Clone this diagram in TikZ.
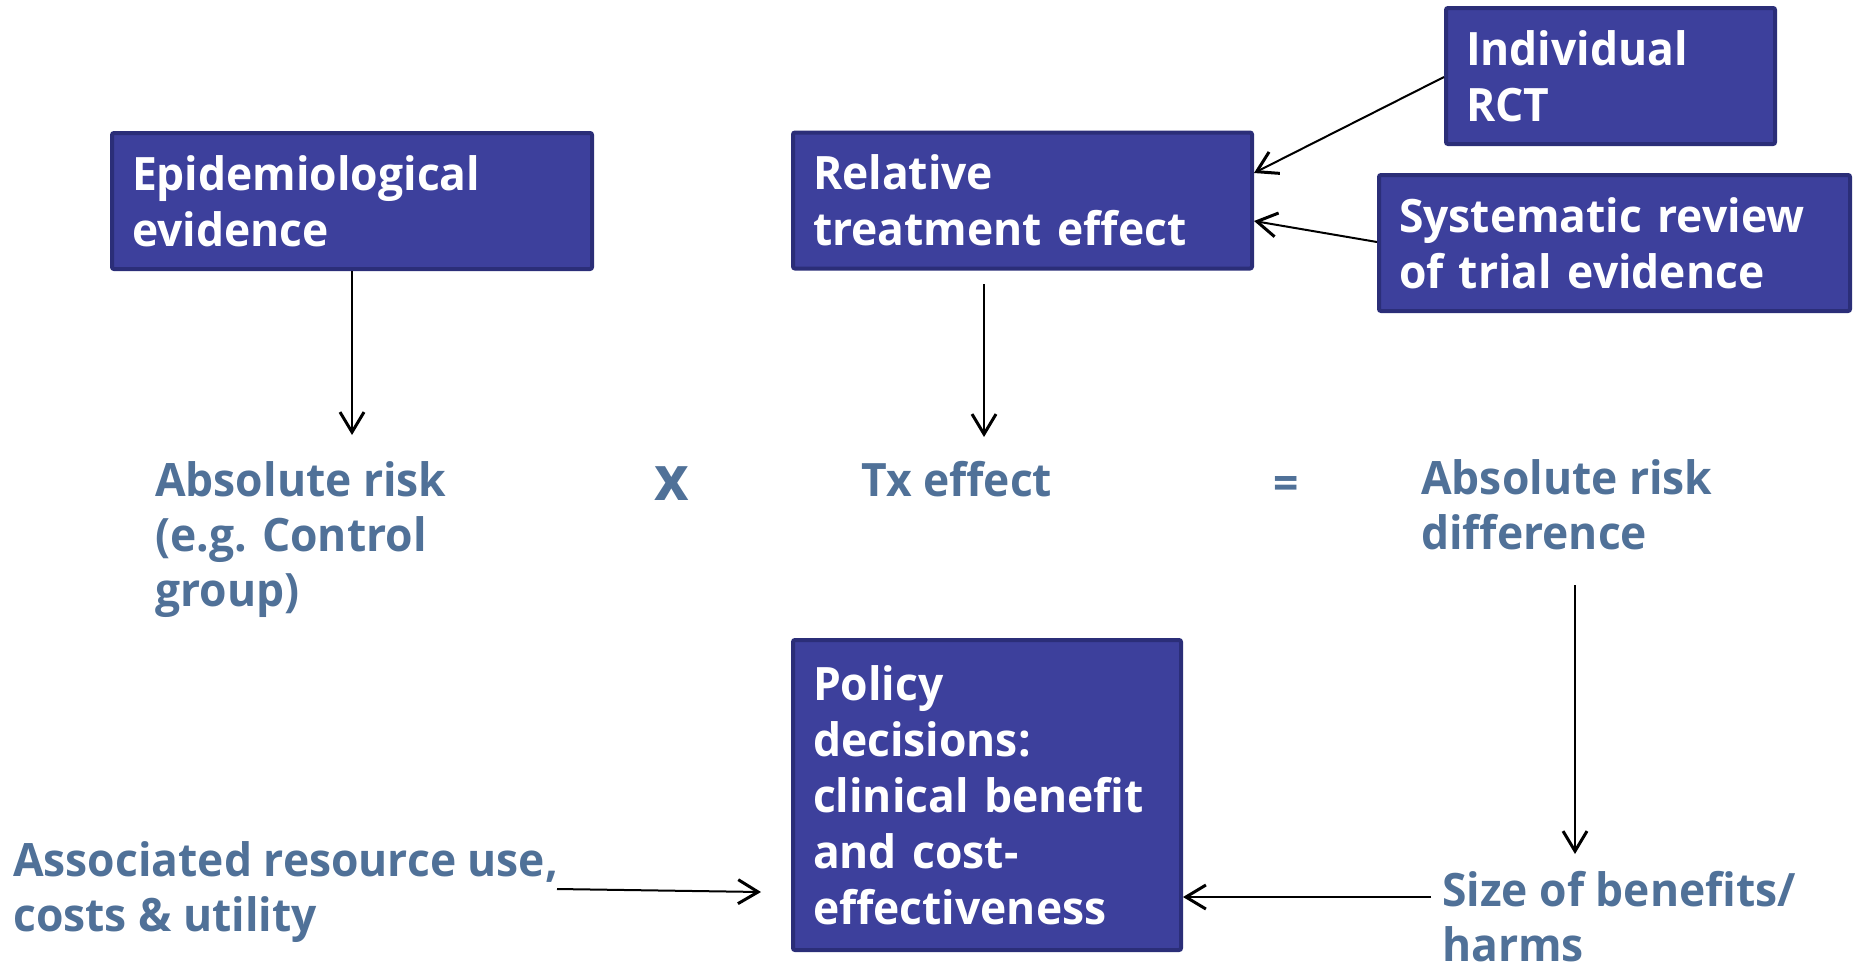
\documentclass[tikz,border=0pt]{standalone}
\usepackage{fontspec}
\setmainfont{Open Sans}[FakeStretch=0.965]
\usetikzlibrary{arrows.meta}

\definecolor{boxfill}{RGB}{61,64,156}
\definecolor{boxline}{RGB}{43,46,120}
\definecolor{slate}{RGB}{80,113,152}

\tikzset{
  evbox/.style={draw=boxline, fill=boxfill, line width=4pt, rounded corners=2pt,
    text=white, font=\bfseries\fontsize{46}{56}\selectfont, align=left,
    inner xsep=20pt, inner ysep=0pt, minimum height=136pt, text width=#1},
  evtext/.style={text=slate, font=\bfseries\fontsize{46}{55}\selectfont,
    align=left, inner sep=0pt, anchor=base west},
}

\begin{document}
\begin{tikzpicture}[x=1pt,y=-1pt,>={Straight Barb[length=20pt,width=24pt,line width=3pt]}]
  \useasboundingbox (0,0) rectangle (1858,972);
  % sources
  \node[evbox=440pt] (epid) at (352,201) {Epidemiological\\evidence};
  \node[evbox=419pt] (relative) at (1022.5,200.5) {Relative\\treatment effect};
  \node[evbox=289pt] (rct) at (1610.5,76) {Individual\\RCT};
  \node[evbox=431pt] (sysrev) at (1614.5,243) {Systematic review\\of trial evidence};
  \node[evbox=348pt, minimum height=310pt] (policy) at (987,795)
    {Policy\\decisions:\\clinical benefit\\and cost-\\effectiveness};
  % the sum (base = last line)
  \node[evtext] (absrisk) at (155,606) {Absolute risk\\(e.g. Control\\group)};
  \node[evtext, anchor=center, font=\bfseries\fontsize{62}{62}\selectfont] (times) at (672,484) {x};
  \node[evtext] (txeffect) at (861,496) {Tx effect};
  \node[evtext, anchor=center] (equals) at (1286,488) {=};
  \node[evtext] (ard) at (1421,549) {Absolute risk\\difference};
  \node[evtext] (size) at (1442,961) {Size of benefits/\\harms};
  \node[evtext] (assoc) at (13,931) {Associated resource use,\\costs \& utility};
  % arrows
  \coordinate (epidend) at (352,435);
  \coordinate (relstart) at (984,284);
  \coordinate (relend) at (984,437);
  \coordinate (ardstart) at (1575,585);
  \coordinate (ardend) at (1575,854);
  \coordinate (assocstart) at (557,889);
  \coordinate (assocend) at (761,892);
  \draw[->, line width=2pt] (epid.south) -- (epidend);
  \draw[->, line width=2pt] (relstart) -- (relend);
  \draw[->, line width=2pt] (rct.west |- 0,77) -- (relative.east |- 0,173);
  \draw[->, line width=2pt] (sysrev.west |- 0,242) -- (relative.east |- 0,221);
  \draw[->, line width=2pt] (ardstart) -- (ardend);
  \draw[->, line width=2pt] (size.west |- 0,897) ++(-11,0) -- (policy.east |- 0,897);
  \draw[->, line width=2pt] (assocstart) -- (assocend);
\end{tikzpicture}
\end{document}
